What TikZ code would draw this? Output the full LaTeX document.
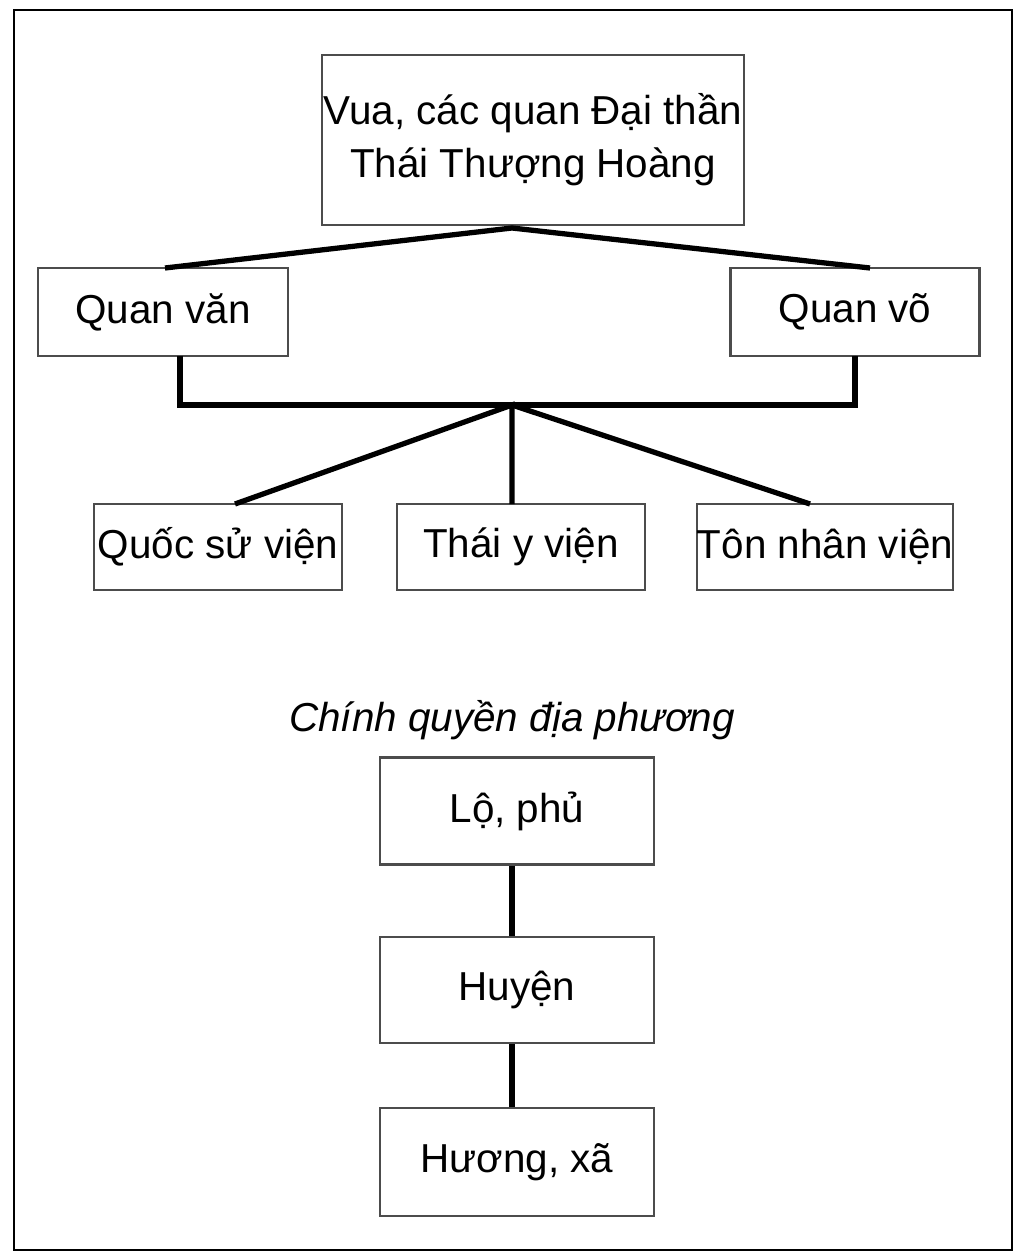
\documentclass[tikz,border=0pt]{standalone}
\usepackage{fontspec}
\setmainfont{Liberation Sans}
\begin{document}
\begin{tikzpicture}[x=0.02cm,y=-0.02cm,
  every node/.style={font=\fontsize{23}{30}\selectfont},
  box/.style={draw=black!70,line width=1.2pt,inner sep=0pt},
  link/.style={line width=3pt}]
        \useasboundingbox (0,0) rectangle (1024,1256);
        \draw[line width=1.2pt] (14,10) rectangle (1012,1250);
        % central court
        \node[box,minimum width=422\pgflinewidth/\pgflinewidth*0.02cm,minimum width=8.44cm,minimum height=3.4cm,align=center] (vua) at (533,140) {Vua, các quan Đại thần\\Thái Thượng Hoàng};
        \node[box,minimum width=5cm,minimum height=1.76cm] (van) at (163,312) {Quan văn};
        \node[box,minimum width=4.98cm,minimum height=1.76cm] (vo) at (855,312) {Quan võ};
        \node[box,minimum width=4.96cm,minimum height=1.72cm] (qsv) at (218,547) {Quốc sử viện};
        \node[box,minimum width=4.96cm,minimum height=1.72cm] (tyv) at (521,547) {Thái y viện};
        \node[box,minimum width=5cm,minimum height=1.72cm] (tnv) at (825,547) {Tôn nhân viện};
        \coordinate (top) at (512,228);
        \coordinate (mid) at (512,405);
        \draw[link] (165,268) -- (top) -- (870,268);
        \draw[link] (180,356) |- (mid) -| (855,356);
        \draw[link] (235,504) -- (mid) -- (512,504);
        \draw[link] (mid) -- (810,504);
        % local government
        \node[font=\fontsize{23}{30}\selectfont\itshape] (cq) at (512,720) {Chính quyền địa phương};
        \node[box,minimum width=5.48cm,minimum height=2.14cm] (lo) at (517,811) {Lộ, phủ};
        \node[box,minimum width=5.48cm,minimum height=2.12cm] (huyen) at (517,990) {Huyện};
        \node[box,minimum width=5.48cm,minimum height=2.16cm] (xa) at (517,1162) {Hương, xã};
        \draw[link] (lo.south -| 512,0) -- (huyen.north -| 512,0);
        \draw[link] (huyen.south -| 512,0) -- (xa.north -| 512,0);
\end{tikzpicture}
\end{document}
